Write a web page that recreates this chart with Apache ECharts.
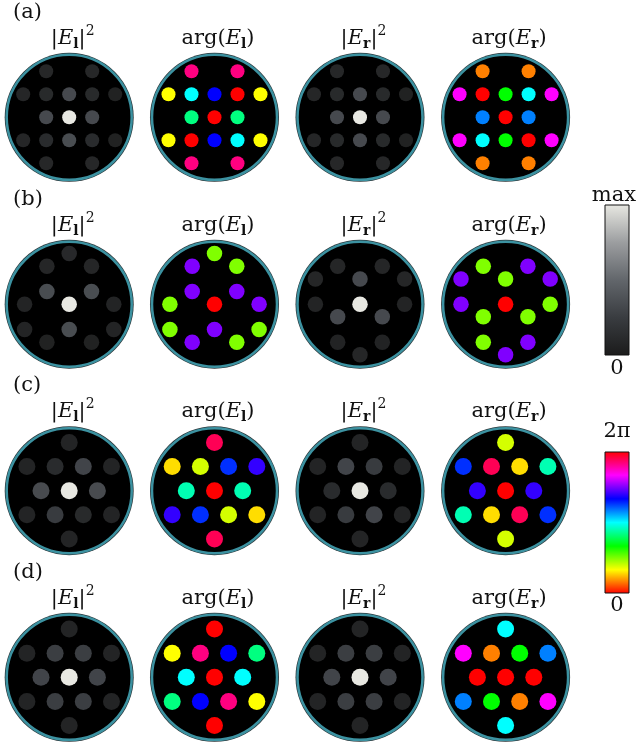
<!DOCTYPE html>
<html><head><meta charset="utf-8">
<script src="https://cdn.jsdelivr.net/npm/echarts@6/dist/echarts.min.js"></script>
<style>html,body{margin:0;padding:0;background:#fff}#c{width:636px;height:744px}</style>
</head><body><div id="c"></div><script>
// ---------- data ----------
const rowLabels = ['(a)', '(b)', '(c)', '(d)'];
const colTitles = [
  '{n||}{i|E}{sb|l}{n||}{sp|2}',
  '{n|arg(}{i|E}{sb|l}{n|)}',
  '{n||}{i|E}{sb|r}{n||}{sp|2}',
  '{n|arg(}{i|E}{sb|r}{n|)}'
];
const intensityTicks = ['max', '0'];
const phaseTicks = ['2π', '0'];

// lattice sites (lattice index units, y downward)
const sitesA = [[-1,-2],[1,-2],[-2,-1],[-1,-1],[0,-1],[1,-1],[2,-1],[-1,0],[0,0],[1,0],[-2,1],[-1,1],[0,1],[1,1],[2,1],[-1,2],[1,2]];
const sitesB_l = [[0,-4],[-1,-3],[1,-3],[-1,-1],[1,-1],[-2,0],[0,0],[2,0],[-2,2],[0,2],[2,2],[-1,3],[1,3]];
const sitesB_r = [[-1,-3],[1,-3],[-2,-2],[0,-2],[2,-2],[-2,0],[0,0],[2,0],[-1,1],[1,1],[-1,3],[1,3],[0,4]];
const sitesC = [[0,-2],[-3,-1],[-1,-1],[1,-1],[3,-1],[-2,0],[0,0],[2,0],[-3,1],[-1,1],[1,1],[3,1],[0,2]];
const sitesD = [[0,-2],[-3,-1],[-1,-1],[1,-1],[3,-1],[-2,0],[0,0],[2,0],[-3,1],[-1,1],[1,1],[3,1],[0,2]];

// intensities (0..max = 0..1) and phases (degrees, 0..360 = 0..2π)
const intA_l = [0.09,0.09,0.08,0.11,0.33,0.11,0.05,0.33,1,0.33,0.08,0.12,0.35,0.12,0.05,0.09,0.09];
const phA_l  = [330,330,60,180,240,0,60,150,0,150,60,0,240,180,60,330,330];
const intA_r = [0.09,0.09,0.08,0.11,0.33,0.11,0.05,0.33,1,0.33,0.08,0.11,0.33,0.11,0.05,0.09,0.09];
const phA_r  = [30,30,300,0,120,180,300,210,0,210,300,180,120,0,300,30,30];

const intB_l = [0.1,0.08,0.08,0.35,0.35,0.07,1,0.07,0.07,0.35,0.07,0.05,0.05];
const phB_l  = [90,270,90,270,270,90,0,270,90,270,90,270,90];
const intB_r = [0.08,0.08,0.08,0.33,0.08,0.07,1,0.07,0.33,0.33,0.06,0.06,0.08];
const phB_r  = [90,270,270,90,270,270,0,90,90,90,90,270,270];

const intC_l = [0.07,0.07,0.12,0.3,0.07,0.34,1,0.34,0.07,0.24,0.11,0.07,0.07];
const phC_l  = [340,52,70,229,252,162,0,162,252,229,70,52,340];
const intC_r = [0.07,0.07,0.3,0.24,0.07,0.12,1,0.12,0.07,0.24,0.3,0.07,0.07];
const phC_r  = [70,229,340,52,162,252,0,252,162,52,340,229,70];

const intD_l = [0.07,0.07,0.26,0.26,0.07,0.3,1,0.3,0.07,0.26,0.26,0.07,0.07];
const phD_l  = [0,60,330,240,150,180,0,180,150,240,330,60,0];
const intD_r = [0.07,0.07,0.26,0.26,0.07,0.3,1,0.3,0.07,0.26,0.26,0.07,0.07];
const phD_r  = [180,300,30,120,210,0,0,0,210,120,30,300,180];

// colour maps
const grayStops = ['#1b1b1b','#393c40','#62666b','#9c9ea0','#e8e8e2'];
const hueStops = ['#ff0000','#ffff00','#00ff00','#00ffff','#0000ff','#ff00ff','#ff0000'];

// ---------- layout ----------
const F = 'DejaVu Serif';
const colX = [69.2, 214.5, 360, 505.6];
const rowY = [117.3, 304.2, 490.7, 677.3];
const rowPPU = [[23,23],[22.3,12.65],[14.1,24.1],[14.1,24.1]];
const rowDot = [14, 15.5, 17, 17];
const HALF = 65;

const rows = [
  {sL: sitesA, sR: sitesA, iL: intA_l, pL: phA_l, iR: intA_r, pR: phA_r},
  {sL: sitesB_l, sR: sitesB_r, iL: intB_l, pL: phB_l, iR: intB_r, pR: phB_r},
  {sL: sitesC, sR: sitesC, iL: intC_l, pL: phC_l, iR: intC_r, pR: phC_r},
  {sL: sitesD, sR: sitesD, iL: intD_l, pL: phD_l, iR: intD_r, pR: phD_r}
];

const grid = [], xAxis = [], yAxis = [], series = [], intIdx = [], phIdx = [], graphic = [];
const rich = {
  n: {fontFamily: F, fontSize: 21, color: '#111', lineHeight: 30},
  i: {fontFamily: F, fontSize: 21, fontStyle: 'italic', color: '#111', lineHeight: 30},
  sb: {fontFamily: F, fontSize: 14, fontWeight: 'bold', color: '#111', padding: [12,0,0,0]},
  sp: {fontFamily: F, fontSize: 14, color: '#111', padding: [0,0,14,0]}
};

rows.forEach((r, ri) => {
  const panels = [[r.sL, r.iL, 'int'], [r.sL, r.pL, 'ph'], [r.sR, r.iR, 'int'], [r.sR, r.pR, 'ph']];
  panels.forEach((p, ci) => {
    const sites = p[0], vals = p[1], kind = p[2];
    const gi = grid.length;
    grid.push({left: colX[ci] - HALF, top: rowY[ri] - HALF, width: 2 * HALF, height: 2 * HALF});
    xAxis.push({type: 'value', gridIndex: gi, min: -HALF / rowPPU[ri][0], max: HALF / rowPPU[ri][0], show: false});
    yAxis.push({type: 'value', gridIndex: gi, min: -HALF / rowPPU[ri][1], max: HALF / rowPPU[ri][1], inverse: true, show: false});
    series.push({
      type: 'scatter', xAxisIndex: gi, yAxisIndex: gi, silent: true, z: 1, clip: false,
      itemStyle: {opacity: 1},
      data: [
        {value: [0, 0], symbolSize: 129, itemStyle: {color: '#2b3639', opacity: 1}},
        {value: [0, 0], symbolSize: 125, itemStyle: {color: '#000', borderColor: '#3c92a1', borderWidth: 2.5, opacity: 1}}
      ]
    });
    const idx = series.length;
    series.push({
      type: 'scatter', xAxisIndex: gi, yAxisIndex: gi, silent: true, z: 2,
      symbolSize: rowDot[ri], itemStyle: {opacity: 1},
      data: sites.map((s, k) => [s[0], s[1], vals[k]])
    });
    (kind === 'int' ? intIdx : phIdx).push(idx);
    graphic.push({type: 'text', x: colX[ci] + 3.5, y: rowY[ri] - 79, silent: true,
      style: {text: colTitles[ci], rich: rich, align: 'center', verticalAlign: 'middle', fill: '#111', font: '21px "' + F + '"'}});
  });
  graphic.push({type: 'text', x: 13, y: rowY[ri] - 105, silent: true,
    style: {text: rowLabels[ri], align: 'left', verticalAlign: 'middle', fill: '#111', font: '21px "' + F + '"'}});
});

function grad(stops) {
  return new echarts.graphic.LinearGradient(0, 1, 0, 0,
    stops.map((c, i) => ({offset: i / (stops.length - 1), color: c})));
}
// colour bars
graphic.push({type: 'rect', silent: true, shape: {x: 605, y: 205, width: 24, height: 150},
  style: {fill: grad(grayStops), stroke: '#111', lineWidth: 1}});
graphic.push({type: 'text', silent: true, x: 614, y: 196, style: {text: intensityTicks[0], align: 'center', verticalAlign: 'middle', fill: '#111', font: '21px "' + F + '"'}});
graphic.push({type: 'text', silent: true, x: 617, y: 369, style: {text: intensityTicks[1], align: 'center', verticalAlign: 'middle', fill: '#111', font: '21px "' + F + '"'}});
graphic.push({type: 'rect', silent: true, shape: {x: 605, y: 452, width: 24, height: 141},
  style: {fill: grad(hueStops), stroke: '#111', lineWidth: 1}});
graphic.push({type: 'text', silent: true, x: 617, y: 432, style: {text: phaseTicks[0], align: 'center', verticalAlign: 'middle', fill: '#111', font: '21px "' + F + '"'}});
graphic.push({type: 'text', silent: true, x: 617, y: 606, style: {text: phaseTicks[1], align: 'center', verticalAlign: 'middle', fill: '#111', font: '21px "' + F + '"'}});

const chart = echarts.init(document.getElementById('c'));
chart.setOption({
  animation: false,
  backgroundColor: '#fff',
  grid, xAxis, yAxis, series, graphic,
  visualMap: [
    {type: 'continuous', show: false, min: 0, max: 1, dimension: 2, seriesIndex: intIdx, inRange: {color: grayStops}},
    {type: 'continuous', show: false, min: 0, max: 360, dimension: 2, seriesIndex: phIdx, inRange: {color: hueStops}}
  ]
});
</script></body></html>
